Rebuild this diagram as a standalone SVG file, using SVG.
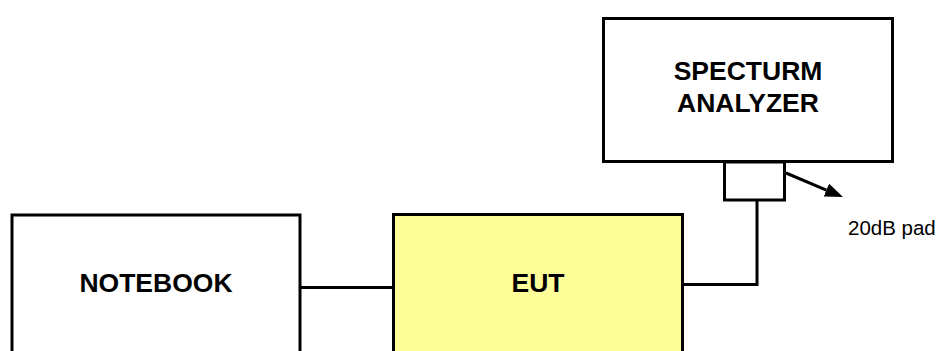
<svg xmlns="http://www.w3.org/2000/svg" width="941" height="351" viewBox="0 0 941 351">
  <style>
    .box { fill: #ffffff; stroke: #000000; stroke-width: 3; }
    .eut { fill: #ffff99; stroke: #000000; stroke-width: 3; }
    .wire { fill: none; stroke: #000000; stroke-width: 3; }
    .title { font-family: "Liberation Sans", Arial, sans-serif; font-weight: bold; font-size: 26.5px; fill: #000000; text-anchor: middle; }
    .note { font-family: "Liberation Sans", Arial, sans-serif; font-size: 20.5px; fill: #000000; }
  </style>
  <defs>
    <marker id="arrowhead" markerUnits="userSpaceOnUse" markerWidth="19" markerHeight="15" refX="0" refY="7" orient="auto">
      <path d="M0,0 L18,7 L0,14 z" fill="#000000"/>
    </marker>
  </defs>
  <rect width="941" height="351" fill="#ffffff"/>

  <g id="connectors">
    <line class="wire" x1="300" y1="287.5" x2="393.5" y2="287.5"/>
    <polyline class="wire" points="682.5,284.5 757,284.5 757,200"/>
    <line class="wire" x1="786" y1="173" x2="826.4" y2="190.1" marker-end="url(#arrowhead)"/>
  </g>

  <g id="notebook">
    <rect class="box" x="12" y="215" width="288" height="150"/>
    <text class="title" x="156" y="292">NOTEBOOK</text>
  </g>

  <g id="eut">
    <rect class="eut" x="393.5" y="214.5" width="289" height="150"/>
    <text class="title" x="538" y="292">EUT</text>
  </g>

  <g id="spectrum-analyzer">
    <rect class="box" x="603.5" y="18.5" width="289" height="143"/>
    <text class="title" x="748" y="80">SPECTURM</text>
    <text class="title" x="748" y="112">ANALYZER</text>
  </g>

  <g id="pad">
    <rect class="box" x="724.5" y="162" width="60" height="38"/>
    <text class="note" x="848" y="235">20dB pad</text>
  </g>
</svg>
